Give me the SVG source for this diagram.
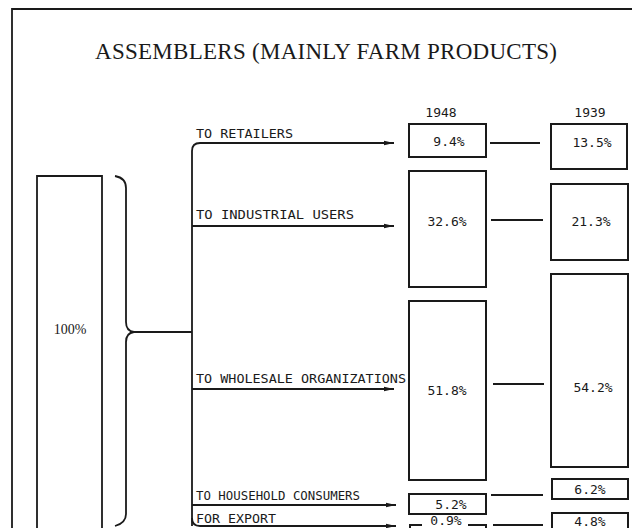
<svg xmlns="http://www.w3.org/2000/svg" width="640" height="528" viewBox="0 0 640 528">
<defs>
<style>
.ln{fill:none;stroke:#1a1a1a;stroke-width:1.8}
.bx{fill:none;stroke:#1a1a1a;stroke-width:2}
.lb{font-family:"DejaVu Sans Mono","Liberation Mono",monospace;font-size:13px;fill:#1a1a1a}
.nm{font-family:"DejaVu Sans Mono","Liberation Mono",monospace;font-size:13px;fill:#1a1a1a;text-anchor:middle}
.ttl{font-family:"Liberation Serif","DejaVu Serif",serif;font-size:23px;fill:#1a1a1a}
</style>
<marker id="ah" viewBox="0 0 10 6" refX="10" refY="3" markerWidth="10" markerHeight="6" markerUnits="userSpaceOnUse" orient="auto">
<path d="M0,0.8 L10,3 L0,5.2 z" fill="#1a1a1a"/>
</marker>
</defs>
<rect width="640" height="528" fill="#ffffff"/>
<path class="ln" d="M12,528 V9 H632"/>
<text class="ttl" x="95" y="59" textLength="462" lengthAdjust="spacing">ASSEMBLERS (MAINLY FARM PRODUCTS)</text>
<text class="nm" x="441" y="117">1948</text>
<text class="nm" x="590" y="117">1939</text>

<g id="source">
<path class="ln" d="M37,528 V176 H102 V528"/>
<text x="70" y="334" text-anchor="middle" font-family="Liberation Serif, serif" font-size="14" fill="#1a1a1a">100%</text>
</g>

<g id="connectors">
<path class="ln" d="M115,176 Q126,178 126,188 V322 Q126,331 134,332 Q126,333 126,342 V514 Q126,523 115,526"/>
<path class="ln" d="M134,332 H192"/>
<path class="ln" d="M192,526 V151 Q192,143 200,143 H394" marker-end="url(#ah)"/>
<path class="ln" d="M192,226 H394" marker-end="url(#ah)"/>
<path class="ln" d="M192,389 H394" marker-end="url(#ah)"/>
<path class="ln" d="M192,505 H396" marker-end="url(#ah)"/>
<path class="ln" d="M192,518 Q192,526 200,526 H396" marker-end="url(#ah)"/>
<path class="ln" d="M490,143 H540"/>
<path class="ln" d="M491,220 H543"/>
<path class="ln" d="M493,384 H544"/>
<path class="ln" d="M491,495 H543"/>
<path class="ln" d="M493,525 H543"/>
</g>

<g id="retailers">
<text class="lb" x="196" y="138" textLength="97" lengthAdjust="spacingAndGlyphs">TO RETAILERS</text>
<rect class="bx" x="409" y="124" width="77" height="33"/>
<text class="nm" x="449" y="146">9.4%</text>
<rect class="bx" x="551" y="124" width="76" height="45"/>
<text class="nm" x="592" y="147">13.5%</text>
</g>

<g id="industrial">
<text class="lb" x="196" y="219" textLength="158" lengthAdjust="spacingAndGlyphs">TO INDUSTRIAL USERS</text>
<rect class="bx" x="409" y="171" width="77" height="116"/>
<text class="nm" x="447" y="226">32.6%</text>
<rect class="bx" x="551" y="184" width="77" height="76"/>
<text class="nm" x="591" y="226">21.3%</text>
</g>

<g id="wholesale">
<text class="lb" x="196" y="383" textLength="210" lengthAdjust="spacingAndGlyphs">TO WHOLESALE ORGANIZATIONS</text>
<rect class="bx" x="409" y="301" width="77" height="179"/>
<text class="nm" x="447" y="395">51.8%</text>
<rect class="bx" x="551" y="274" width="77" height="193"/>
<text class="nm" x="593" y="392">54.2%</text>
</g>

<g id="household">
<text class="lb" x="196" y="500" textLength="164" lengthAdjust="spacingAndGlyphs">TO HOUSEHOLD CONSUMERS</text>
<rect class="bx" x="409" y="494" width="77" height="20"/>
<text class="nm" x="451" y="509" font-size="12">5.2%</text>
<rect class="bx" x="552" y="479" width="76" height="20"/>
<text class="nm" x="590" y="494" fill="#777">6.2%</text>
</g>

<g id="export">
<text class="lb" x="196" y="523" textLength="80" lengthAdjust="spacingAndGlyphs">FOR EXPORT</text>
<path class="bx" d="M410,530 V525 H422 M468,525 H486 V530"/>
<text class="nm" x="446" y="525" font-size="10">0.9%</text>
<path class="bx" d="M552,530 V513 H628 V530"/>
<text class="nm" x="590" y="526">4.8%</text>
</g>
</svg>
